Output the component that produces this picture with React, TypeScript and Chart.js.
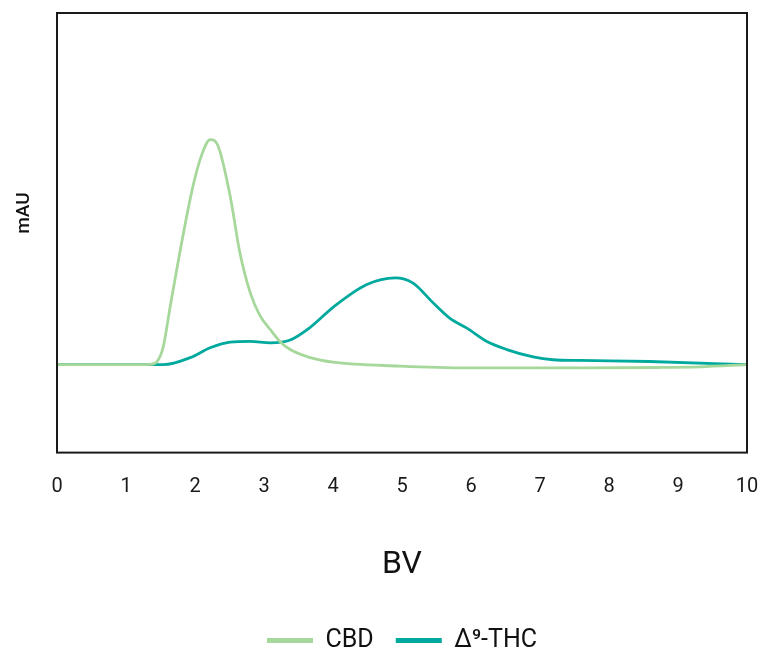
import React, { useEffect, useRef } from "react";
import { Chart, registerables } from "chart.js";

Chart.register(...registerables);

// Data (BV vs mAU, arbitrary units)
const xTicks = [0, 1, 2, 3, 4, 5, 6, 7, 8, 9, 10];

const cbdBV = [0, 1.2, 1.35, 1.45, 1.54, 1.64, 1.78, 1.97, 2.1, 2.22, 2.33, 2.51, 2.65, 2.8, 2.94, 3.09, 3.23, 3.38, 3.67, 4.0, 4.97, 5.94, 7.58, 8.7, 9.32, 10];
const cbdMAU = [0, 0, 0.1, 0.9, 5.1, 16.5, 31.9, 50.7, 59.8, 64.0, 62.4, 47.9, 31.9, 20.5, 14.0, 10.0, 6.6, 4.3, 2.0, 0.7, -0.4, -0.9, -0.9, -0.8, -0.6, 0];

const thcBV = [0, 1.06, 1.54, 1.93, 2.22, 2.51, 2.8, 3.09, 3.38, 3.67, 4.0, 4.49, 4.9, 5.16, 5.45, 5.7, 5.94, 6.23, 6.52, 6.9, 7.19, 7.58, 8.59, 10];
const thcMAU = [0, 0, 0, 2.0, 4.8, 6.4, 6.6, 6.2, 7.0, 10.6, 16.3, 22.8, 24.7, 23.2, 17.6, 13.1, 10.4, 6.6, 4.3, 2.2, 1.4, 1.2, 0.9, 0];

const seriesLabels = ["CBD", "Δ⁹-THC"];
const seriesColors = ["#a6d89b", "#00a99d"];

const FONT = "Roboto, 'Noto Sans', sans-serif";

const framePlugin = {
  id: "frameAndYTitle",
  afterDraw(chart: any) {
    const { ctx, chartArea } = chart;
    ctx.save();
    ctx.strokeStyle = "#1a1a1a";
    ctx.lineWidth = 2;
    ctx.strokeRect(chartArea.left, chartArea.top, chartArea.right - chartArea.left, chartArea.bottom - chartArea.top);
    ctx.translate(24, 213);
    ctx.rotate(-Math.PI / 2);
    ctx.fillStyle = "#111";
    ctx.font = `500 19px ${FONT}`;
    ctx.textAlign = "center";
    ctx.textBaseline = "middle";
    ctx.fillText("mAU", 0, 0);
    ctx.restore();
  },
};

export default function App() {
  const canvasRef = useRef<HTMLCanvasElement | null>(null);

  useEffect(() => {
    document.body.style.margin = "0";
    const canvas = canvasRef.current;
    if (!canvas) return;
    const toPts = (xs: number[], ys: number[]) => xs.map((x, i) => ({ x, y: ys[i] }));
    const chart = new Chart(canvas, {
      type: "line",
      data: {
        datasets: [
          {
            label: seriesLabels[0],
            data: toPts(cbdBV, cbdMAU),
            borderColor: seriesColors[0],
            backgroundColor: seriesColors[0],
            borderWidth: 2.8,
            pointRadius: 0,
            fill: false,
            cubicInterpolationMode: "monotone",
          },
          {
            label: seriesLabels[1],
            data: toPts(thcBV, thcMAU),
            borderColor: seriesColors[1],
            backgroundColor: seriesColors[1],
            borderWidth: 2.8,
            pointRadius: 0,
            fill: false,
            cubicInterpolationMode: "monotone",
          },
        ],
      },
      options: {
        animation: false,
        responsive: true,
        maintainAspectRatio: false,
        layout: { padding: { left: 57, right: 15, top: 13, bottom: -12 } },
        scales: {
          x: {
            type: "linear",
            min: 0,
            max: 10,
            afterBuildTicks: (scale: any) => {
              scale.ticks = xTicks.map((v) => ({ value: v }));
            },
            afterFit: (scale: any) => {
              scale.paddingLeft = 0;
              scale.paddingRight = 0;
            },
            grid: { display: false, drawTicks: false },
            border: { display: false },
            ticks: {
              padding: 22,
              color: "#1a1a1a",
              font: { family: FONT, size: 20 },
            },
            title: {
              display: true,
              text: "BV",
              color: "#111",
              font: { family: FONT, size: 32 },
              padding: { top: 25, bottom: 22 },
            },
          },
          y: {
            display: false,
            min: -25,
            max: 100,
          },
        },
        plugins: {
          tooltip: { enabled: false },
          legend: {
            position: "bottom",
            labels: {
              color: "#111",
              font: { family: FONT, size: 25 },
              boxWidth: 46,
              boxHeight: 5,
              padding: 22,
              generateLabels: (c: any) =>
                c.data.datasets.map((ds: any, i: number) => ({
                  text: ds.label,
                  fillStyle: ds.borderColor,
                  strokeStyle: ds.borderColor,
                  lineWidth: 0,
                  hidden: false,
                  datasetIndex: i,
                  fontColor: "#111",
                })),
            },
          },
        },
      },
      plugins: [framePlugin],
    } as any);
    return () => chart.destroy();
  }, []);

  return (
    <div style={{ position: "relative", width: "762px", height: "651px" }}>
      <canvas ref={canvasRef} />
    </div>
  );
}
